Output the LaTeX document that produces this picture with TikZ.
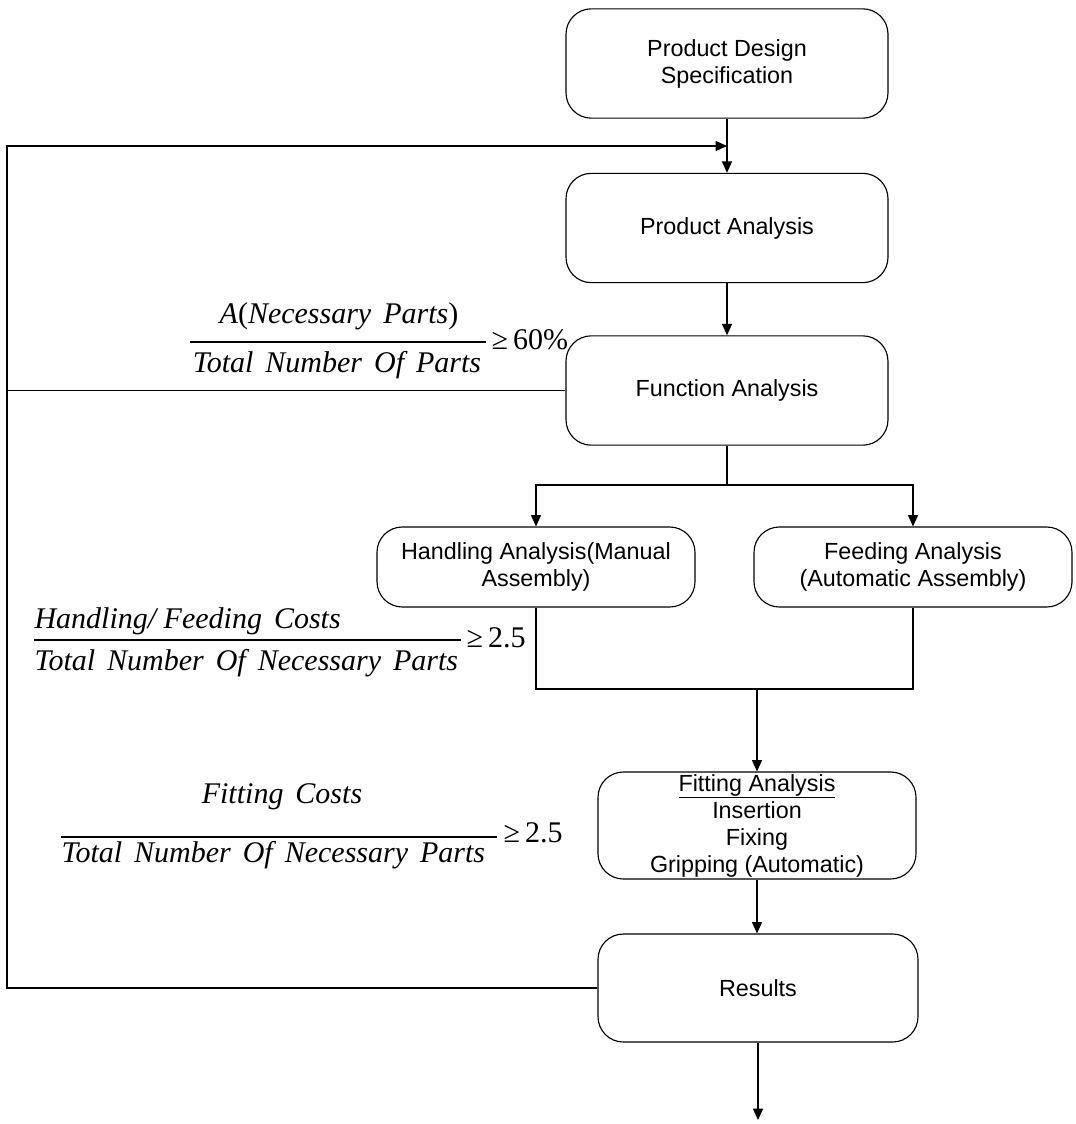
\documentclass[tikz,border=0pt]{standalone}
\usepackage{fontspec}
\setmainfont{Liberation Sans}
\newfontfamily\tms{Liberation Serif}
\usetikzlibrary{arrows.meta}
% wide gap between the words of the cost ratios
\newcommand\wg{\hspace{0.4em}}
\begin{document}
\begin{tikzpicture}[x=0.75pt,y=-0.75pt,
  line width=0.85pt,
  box/.style={draw, rounded corners=19pt, inner sep=0pt, align=center,
     font=\fontsize{17.5}{20.25}\selectfont},
  wide/.style={box, minimum width=241.5pt, minimum height=82pt},
  side/.style={box, minimum width=238.5pt, minimum height=60pt},
  tip/.style={-{Triangle[length=8.5pt,width=7.5pt]}},
  frac/.style={inner sep=0pt, font=\tms\fontsize{22.5}{26}\selectfont\itshape},
  rel/.style={inner sep=0pt, font=\tms\fontsize{22.5}{26}\selectfont},
  bar/.style={line width=1.5pt}
]
\fill[white] (0,0) rectangle (1075,1124);
\useasboundingbox (0,0) rectangle (1075,1124);

% process steps
\node[wide] (pds) at (727,63.5) {Product Design\\Specification};
\node[wide] (pa)  at (727,228) {Product Analysis};
\node[wide] (fa)  at (727,390.5) {Function Analysis};
\node[side] (hand) at (536,567) {Handling Analysis(Manual\\Assembly)};
\node[side] (feed) at (913,567) {Feeding Analysis\\(Automatic Assembly)};
\node[side, minimum height=80.25pt] (fit) at (757,825.5)
  {\underline{Fitting Analysis}\\Insertion\\Fixing\\Gripping (Automatic)};
\node[side, minimum width=240pt, minimum height=81pt] (res) at (758,988) {Results};

% junction points of the connectors
\coordinate (fb) at (727,146);
\coordinate (rail) at (7,146);
\coordinate (split) at (727,485);
\coordinate (merge) at (757,689);
\coordinate (out) at (758,1120);

% main flow
\draw[tip] (pds) -- (pa);
\draw[tip] (pa) -- (fa);
\draw (fa.south) -- (split);
\draw[tip] (split) -| (hand.north);
\draw[tip] (split) -| (feed.north);
\draw (hand.south) |- (merge) -| (feed.south);
\draw[tip] (merge) -- (fit.north);
\draw[tip] (fit.south) -- (fit.south |- res.north);
\draw[tip] (res) -- (out);

% feedback loop back to the product analysis
\draw[tip] (res.west) -| (rail) -- (fb);
\draw (fa.west) -- (fa.west -| rail);

% criterion: necessary parts
\node[frac, anchor=base] (n1) at (339,323) {A{\upshape(}Necessary\wg Parts{\upshape)}};
\draw[bar] (190,342) -- (486,342);
\node[frac, anchor=base] (d1) at (337,372) {Total\wg Number\wg Of\wg Parts};
\node[rel, anchor=base west] (r1) at (491,349) {≥\,60\%};

% criterion: handling / feeding costs
\node[frac, anchor=base west] (n2) at (34,628) {Handling/ Feeding\wg Costs};
\draw[bar] (34,640) -- (461,640);
\node[frac, anchor=base west] (d2) at (34,670) {Total\wg Number\wg Of\wg Necessary\wg Parts};
\node[rel, anchor=base west] (r2) at (466,647) {≥\,2.5};

% criterion: fitting costs
\node[frac, anchor=base] (n3) at (282,803) {Fitting\wg Costs};
\draw[bar] (61,837) -- (497,837);
\node[frac, anchor=base west] (d3) at (61,862) {Total\wg Number\wg Of\wg Necessary\wg Parts};
\node[rel, anchor=base west] (r3) at (503,842) {≥\,2.5};
\end{tikzpicture}
\end{document}
